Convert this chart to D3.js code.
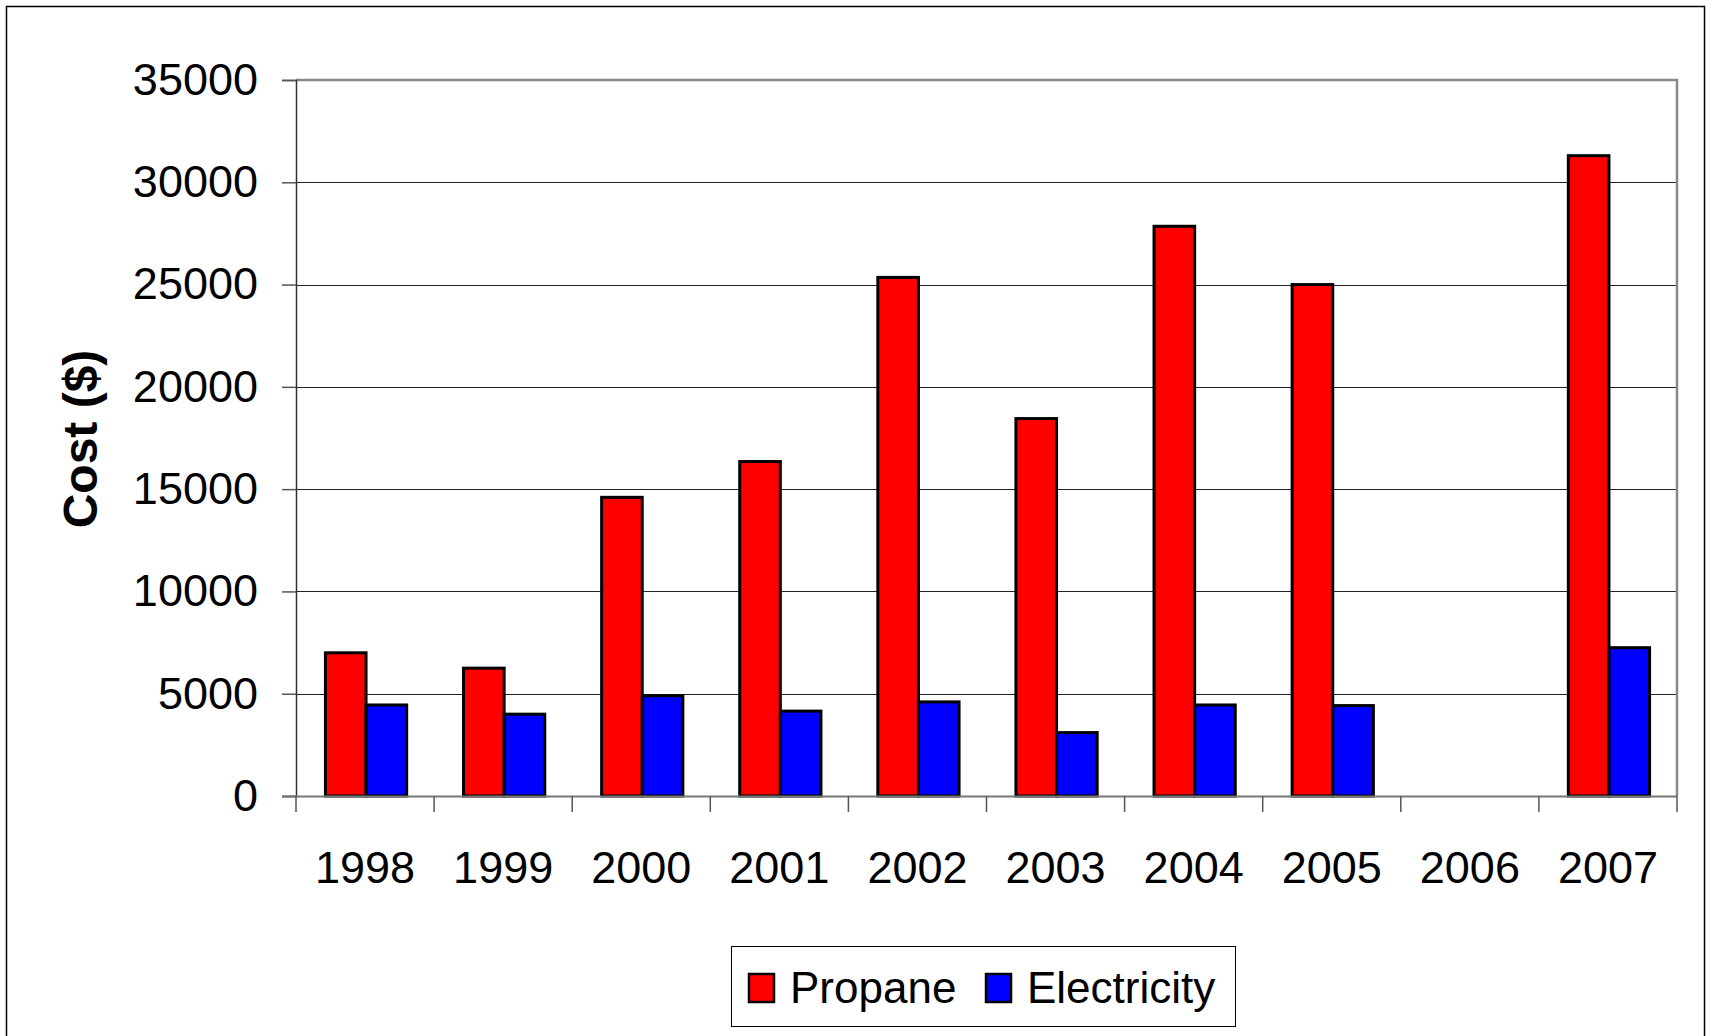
<!DOCTYPE html>
<html lang="en">
<head>
  <meta charset="UTF-8">
  <title>Cost chart</title>
  <style>
    html, body { margin: 0; padding: 0; background: #fff; }
    svg { display: block; font-family: "Liberation Sans", Arial, sans-serif; }
  </style>
</head>
<body>
<div id="chart"></div>
<script src="https://cdn.jsdelivr.net/npm/d3@7"></script>
<script>
let years = ['1998', '1999', '2000', '2001', '2002', '2003', '2004', '2005', '2006', '2007']
let propane = [7000, 6250, 14600, 16350, 25350, 18450, 27850, 25000, 0, 31300]
let electricity = [4450, 4000, 4900, 4150, 4600, 3100, 4450, 4420, 0, 7250]
let seriesNames = ['Propane', 'Electricity']
let seriesColors = ['#ff0000', '#0000ff']
let yTicks = [0, 5000, 10000, 15000, 20000, 25000, 30000, 35000]
let yTitle = 'Cost ($)'

let width = 1712
let height = 1036
let plotLeft = 296, plotRight = 1677, plotTop = 80, plotBottom = 796

let svg = d3.select('#chart').append('svg').attr('width', width).attr('height', height)

// outer frame
svg.append('rect').attr('x', 6.5).attr('y', 6.5).attr('width', 1698).attr('height', 1100)
  .attr('fill', 'none').attr('stroke', '#000').attr('stroke-width', 1.5)

let x = d3.scaleBand().domain(years).range([plotLeft, plotRight]).paddingInner(0).paddingOuter(0)
let inner = d3.scaleBand().domain(seriesNames).range([0, x.bandwidth()]).paddingInner(0).paddingOuter(0.7)
let y = d3.scaleLinear().domain([0, 35000]).range([plotBottom, plotTop])

// gridlines
svg.append('g').selectAll('line').data(yTicks.filter(d => d > 0 && d < 35000)).join('line')
  .attr('x1', plotLeft).attr('x2', plotRight)
  .attr('y1', d => Math.round(y(d)) + 0.5).attr('y2', d => Math.round(y(d)) + 0.5)
  .attr('stroke', '#222').attr('stroke-width', 1)

// plot border top/right
svg.append('path')
  .attr('d', `M${plotLeft},${plotTop}H${plotRight}V${plotBottom}`)
  .attr('fill', 'none').attr('stroke', '#888').attr('stroke-width', 2.5)

// y axis
let yAxis = d3.axisLeft(y).tickValues(yTicks).tickSize(14).tickPadding(24).tickFormat(d3.format('d'))
let gy = svg.append('g').attr('transform', `translate(${plotLeft},0)`).call(yAxis)
gy.select('.domain').attr('stroke', '#333').attr('stroke-width', 1.5)
gy.selectAll('.tick line').attr('stroke', '#555').attr('stroke-width', 1.5)
gy.selectAll('.tick text').attr('font-size', 45).attr('fill', '#000').attr('font-family', '"Liberation Sans", Arial, sans-serif')

// bars
let groups = svg.append('g').selectAll('g').data(years).join('g')
  .attr('transform', d => `translate(${x(d)},0)`)
groups.selectAll('rect').data((d, i) => [
  { name: 'Propane', value: propane[i], color: seriesColors[0] },
  { name: 'Electricity', value: electricity[i], color: seriesColors[1] }
].filter(b => b.value > 0)).join('rect')
  .attr('x', d => inner(d.name) + 1)
  .attr('y', d => y(d.value))
  .attr('width', inner.bandwidth())
  .attr('height', d => plotBottom - y(d.value))
  .attr('fill', d => d.color)
  .attr('stroke', '#000').attr('stroke-width', 3)

// x axis
let xAxis = d3.axisBottom(x).tickSize(0).tickPadding(0)
let gx = svg.append('g').attr('transform', `translate(0,${plotBottom})`).call(xAxis)
gx.select('.domain').remove()
gx.selectAll('.tick text').attr('font-size', 45).attr('fill', '#000').attr('dy', 0).attr('y', 87)
  .attr('font-family', '"Liberation Sans", Arial, sans-serif')
svg.append('line').attr('x1', plotLeft - 14).attr('x2', plotRight).attr('y1', plotBottom + 0.5).attr('y2', plotBottom + 0.5)
  .attr('stroke', '#777').attr('stroke-width', 2)
svg.append('g').selectAll('line').data(years.concat(['end'])).join('line')
  .attr('x1', (d, i) => plotLeft + i * x.bandwidth()).attr('x2', (d, i) => plotLeft + i * x.bandwidth())
  .attr('y1', plotBottom).attr('y2', plotBottom + 16)
  .attr('stroke', '#555').attr('stroke-width', 1.5)

// y title
svg.append('text').text(yTitle)
  .attr('transform', 'translate(97,439) rotate(-90)')
  .attr('text-anchor', 'middle').attr('font-size', 48).attr('font-weight', 'bold')

// legend
let legend = svg.append('g')
legend.append('rect').attr('x', 731.5).attr('y', 946.5).attr('width', 504).attr('height', 80)
  .attr('fill', '#fff').attr('stroke', '#000').attr('stroke-width', 1)
let legendX = [749, 986]
seriesNames.forEach((name, i) => {
  legend.append('rect').attr('x', legendX[i]).attr('y', 974).attr('width', 25).attr('height', 28)
    .attr('fill', seriesColors[i]).attr('stroke', '#000').attr('stroke-width', 2.5)
  legend.append('text').text(name).attr('x', legendX[i] + 41).attr('y', 1003)
    .attr('font-size', 44)
})
</script>
</body>
</html>
